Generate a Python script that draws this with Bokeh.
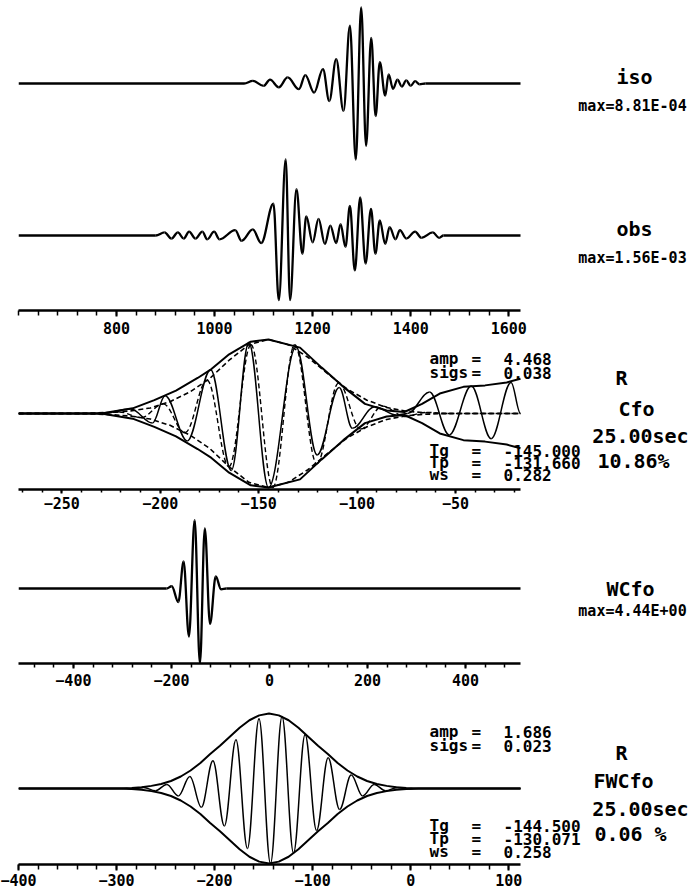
from bokeh.plotting import figure
from bokeh.models import Range1d, LinearAxis, FixedTicker, Label
from bokeh.layouts import column
from bokeh.embed import file_html
from bokeh.resources import INLINE

MONO = "DejaVu Sans Mono"
W = 690
LEFT = 18

# ---------------- data ----------------
# iso / obs seismograms: extrema (time, normalised amplitude)
ISO_T = [600, 1060, 1078, 1100, 1113, 1131, 1149, 1172, 1185, 1203, 1221, 1234, 1248, 1263,
         1276, 1288, 1299, 1309, 1319.5, 1328.5, 1337, 1348, 1355, 1364, 1373, 1382, 1391,
         1400, 1409, 1418, 1430, 1624]
ISO_A = [0, 0, 0.035, -0.03, 0.05, -0.05, 0.08, -0.075, 0.11, -0.12, 0.19, -0.23, 0.32, -0.36,
         0.76, -1.0, 1.0, -0.82, 0.6, -0.43, 0.28, -0.16, 0.12, -0.07, 0.05, -0.04, 0.04,
         -0.03, 0.03, -0.01, 0, 0]

OBS_T = [600, 880, 898, 912, 925, 937, 948, 961, 975, 985, 999, 1010, 1042, 1055, 1078, 1095,
         1120, 1131, 1145, 1154, 1167, 1179, 1187, 1200, 1212, 1225, 1236, 1248, 1257, 1267,
         1276, 1286, 1297, 1308, 1319, 1328, 1337, 1348, 1357, 1369, 1378, 1391, 1409, 1422,
         1445, 1458, 1467, 1624]
OBS_A = [0, 0, 0.04, -0.04, 0.04, -0.04, 0.05, -0.04, 0.05, -0.05, 0.05, -0.05, 0.07, -0.07,
         0.08, -0.1, 0.42, -0.85, 1.0, -0.85, 0.61, -0.24, 0.25, -0.09, 0.22, -0.11, 0.13,
         -0.1, 0.15, -0.15, 0.39, -0.46, 0.5, -0.37, 0.35, -0.24, 0.2, -0.11, 0.11, -0.05,
         0.07, -0.04, 0.05, -0.03, 0.04, -0.03, 0, 0]

# Cfo: measured envelope (upper half) and filtered trace extrema
CFO_ENV_T = [-272, -230, -214, -203, -192, -181, -174, -165, -154, -145, -129, -118, -107,
             -96, -85, -76, -67, -58, -46, -35, -24, -17]
CFO_ENV_A = [0, 0, 0.07, 0.18, 0.31, 0.48, 0.6, 0.8, 0.97, 1.0, 0.89, 0.62, 0.36, 0.13,
             0.04, 0.02, 0.13, 0.27, 0.36, 0.38, 0.42, 0.47]
CFO_T = [-272, -230, -215, -204, -197.5, -186.3, -174.4, -163.9, -155, -145, -131, -120.3,
         -109.1, -102.4, -91.2, -80, -74.4, -63.2, -53.2, -42, -31.9, -21.8, -17]
CFO_A = [0, 0, 0.06, -0.13, 0.24, -0.37, 0.59, -0.77, 0.96, -1.0, 0.9, -0.56, 0.35, -0.2,
         0.09, -0.02, 0, 0.29, -0.29, 0.37, -0.34, 0.42, 0]

# Cfo: fitted wavelet (dashed) envelope and extrema
FIT_ENV_T = [-272, -245, -235, -225, -215, -205, -195, -185, -175, -165, -155, -145, -135,
             -125, -115, -105, -95, -85, -75, -65, -55, -17]
FIT_ENV_A = [0, 0, 0.005, 0.015, 0.035, 0.075, 0.16, 0.29, 0.47, 0.72, 0.93, 1.0, 0.93,
             0.76, 0.54, 0.33, 0.18, 0.08, 0.03, 0.01, 0, 0]
FIT_T = [-272, -232, -220.8, -209.6, -198.5, -187.4, -176.2, -165.1, -153.9, -142.8, -131.7,
         -120.5, -109.4, -98.2, -87.1, -75.9, -64.8, -54, -17]
FIT_A = [0, 0, 0.02, -0.055, 0.13, -0.26, 0.45, -0.72, 0.93, -1.0, 0.93, -0.68, 0.41, -0.21,
         0.1, -0.04, 0.015, 0, 0]

# WCfo trace extrema
WC_T = [-512, -210, -199.4, -186, -175.2, -164.4, -152.7, -141.9, -132, -121.3, -109.6,
        -98.8, -88, 512]
WC_A = [0, 0, 0.03, -0.18, 0.36, -0.64, 0.91, -1.0, 0.8, -0.47, 0.16, -0.01, 0, 0]

# FWCfo: envelope (upper half) and filtered trace extrema
FW_ENV_T = [-400, -294.5, -284.5, -274.5, -264.5, -254.5, -244.5, -234.5, -224.5, -214.5,
            -204.5, -194.5, -184.5, -174.5, -164.5, -154.5, -144.5, -134.5, -124.5, -114.5,
            -104.5, -94.5, -84.5, -74.5, -64.5, -54.5, -44.5, -34.5, -24.5, -14.5, -4.5,
            5.5, 112]
FW_ENV_A = [0, 0, 0.008, 0.018, 0.035, 0.06, 0.1, 0.16, 0.24, 0.34, 0.46, 0.57, 0.69, 0.81,
            0.91, 0.975, 1.0, 0.975, 0.91, 0.81, 0.69, 0.57, 0.46, 0.34, 0.24, 0.16, 0.1,
            0.06, 0.035, 0.018, 0.008, 0, 0]
FW_T = [-400, -290, -284, -272.2, -260.5, -248.7, -237, -225.2, -213.5, -201.7, -190,
        -178.2, -166.5, -154.7, -143, -131.2, -119.5, -107.7, -96, -84.2, -72.5, -60.7,
        -49, -37.2, -25.5, -13.7, -2, 8, 112]
FW_A = [0, 0, -0.006, 0.014, -0.03, 0.055, -0.1, 0.16, -0.25, 0.37, -0.5, 0.65, -0.8, 0.93,
        -1.0, 0.96, -0.86, 0.72, -0.56, 0.41, -0.28, 0.18, -0.1, 0.055, -0.03, 0.014,
        -0.006, 0, 0]

# axis ticks
TOP_MAJOR = [800, 1000, 1200, 1400, 1600]
CFO_MAJOR = [-250, -200, -150, -100, -50]
WC_MAJOR = [-400, -200, 0, 200, 400]
FW_MAJOR = [-400, -300, -200, -100, 0, 100]

# fit parameters printed beside the Cfo / FWCfo traces
CFO_PARAMS = [("amp", "4.468"), ("sigs", "0.038"), ("Tg", "-145.000"), ("Tp", "-131.660"),
              ("ws", "0.282")]
FW_PARAMS = [("amp", "1.686"), ("sigs", "0.023"), ("Tg", "-144.500"), ("Tp", "-130.071"),
             ("ws", "0.258")]


# ---------------- helpers ----------------
def panel(height, frame_h, t0, t1, pxu, frame_top, base_y, scale, majors, minor_step,
          tick_out, standoff):
    span = (W - LEFT) / pxu
    y_hi = (base_y - frame_top) / scale
    y_lo = y_hi - frame_h / scale
    p = figure(width=W, height=height, x_range=Range1d(t0, t0 + span),
               y_range=Range1d(y_lo, y_hi), x_axis_type=None, y_axis_type=None,
               toolbar_location=None, output_backend="svg", min_border_left=LEFT,
               min_border_right=0, min_border_top=0, min_border_bottom=height - frame_h,
               outline_line_color=None)
    minors = []
    v = majors[0] - minor_step * int((majors[0] - t0) / minor_step)
    while v <= t1 + 1e-9:
        minors.append(v)
        v += minor_step
    ax = LinearAxis(ticker=FixedTicker(ticks=majors, minor_ticks=minors), bounds=(t0, t1),
                    axis_line_width=2.5, axis_line_color="black",
                    major_tick_in=0, major_tick_out=tick_out, major_tick_line_width=2,
                    minor_tick_in=0, minor_tick_out=tick_out - 1, minor_tick_line_width=1.5,
                    major_label_standoff=standoff, major_label_text_font=MONO,
                    major_label_text_font_style="bold", major_label_text_font_size="15px",
                    major_label_text_color="black")
    p.add_layout(ax, "below")
    p.toolbar.logo = None
    # pixel -> data helpers for text placement
    p.tags = [t0, pxu, frame_top, y_hi, scale]
    return p


def put(p, X, Y, text, size, align="center"):
    t0, pxu, ftop, y_hi, scale = p.tags
    p.add_layout(Label(x=t0 + (X - LEFT) / pxu, y=y_hi - (Y - ftop) / scale, text=text,
                       text_font=MONO, text_font_style="bold", text_font_size=size,
                       text_align=align, text_baseline="middle", text_color="black"))


def param_block(p, params, ys):
    for (name, val), y in zip(params, ys):
        put(p, 429, y, name, "16px", "left")
        put(p, 471, y, "=", "16px", "left")
        put(p, 503, y, val, "16px", "left")


def smooth_trace(p, ts, amps, offset=0.0, width=2.0, dash="solid"):
    # half-cycle curves between successive extrema, flat tangents at each extremum
    x0, y0, x1, y1, cx0, cy0, cx1, cy1 = [], [], [], [], [], [], [], []
    for i in range(len(ts) - 1):
        a, b = ts[i], ts[i + 1]
        d = (b - a) * 0.364
        x0.append(a); y0.append(amps[i] + offset)
        x1.append(b); y1.append(amps[i + 1] + offset)
        cx0.append(a + d); cy0.append(amps[i] + offset)
        cx1.append(b - d); cy1.append(amps[i + 1] + offset)
    p.bezier(x0=x0, y0=y0, x1=x1, y1=y1, cx0=cx0, cy0=cy0, cx1=cx1, cy1=cy1,
             line_color="black", line_width=width, line_dash=dash)


def envelope(p, ts, amps, width=2.0, dash="solid"):
    p.line(ts, amps, line_color="black", line_width=width, line_dash=dash)
    p.line(ts, [-a for a in amps], line_color="black", line_width=width, line_dash=dash)


# ---------------- iso + obs ----------------
top = panel(337, 310, 600, 1624, 502 / 1024, 0, 83, 76, TOP_MAJOR, 40, 6, 5)
smooth_trace(top, ISO_T, ISO_A, 0.0, 2.3)
smooth_trace(top, OBS_T, OBS_A, -2.0, 2.3)
put(top, 634, 76, "iso", "20px")
put(top, 632, 105, "max=8.81E-04", "15px")
put(top, 634, 228, "obs", "20px")
put(top, 632, 257, "max=1.56E-03", "15px")

# ---------------- Cfo ----------------
cfo = panel(176, 152, -272, -17, 502 / 255, 337, 413, 74, CFO_MAJOR, 10, 4, 3)
envelope(cfo, FIT_ENV_T, FIT_ENV_A, 1.6, "5 3")
smooth_trace(cfo, FIT_T, FIT_A, 0.0, 1.4, "5 3")
envelope(cfo, CFO_ENV_T, CFO_ENV_A, 2.0)
smooth_trace(cfo, CFO_T, CFO_A, 0.0, 1.5)
param_block(cfo, CFO_PARAMS, [358, 372, 450, 462, 474])
put(cfo, 621, 377, "R", "20px")
put(cfo, 636, 408, "Cfo", "20px")
put(cfo, 640, 435, "25.00sec", "20px")
put(cfo, 633, 460, "10.86%", "20px")

# ---------------- WCfo ----------------
wc = panel(177, 150, -512, 512, 502 / 1024, 513, 588, 75, WC_MAJOR, 40, 5, 5)
smooth_trace(wc, WC_T, WC_A, 0.0, 2.3)
put(wc, 630, 588, "WCfo", "20px")
put(wc, 632, 610, "max=4.44E+00", "15px")

# ---------------- FWCfo ----------------
fw = panel(200, 174, -400, 112, 502 / 512, 690, 788, 75, FW_MAJOR, 20, 6, 3)
envelope(fw, FW_ENV_T, FW_ENV_A, 2.0)
smooth_trace(fw, FW_T, FW_A, 0.0, 1.5)
param_block(fw, FW_PARAMS, [731, 745, 825, 838, 851])
put(fw, 621, 752, "R", "20px")
put(fw, 623, 780, "FWCfo", "20px")
put(fw, 640, 808, "25.00sec", "20px")
put(fw, 630, 833, "0.06 %", "20px")

layout = column(top, cfo, wc, fw, spacing=0)
open("out.html", "w").write(file_html(layout, INLINE))
